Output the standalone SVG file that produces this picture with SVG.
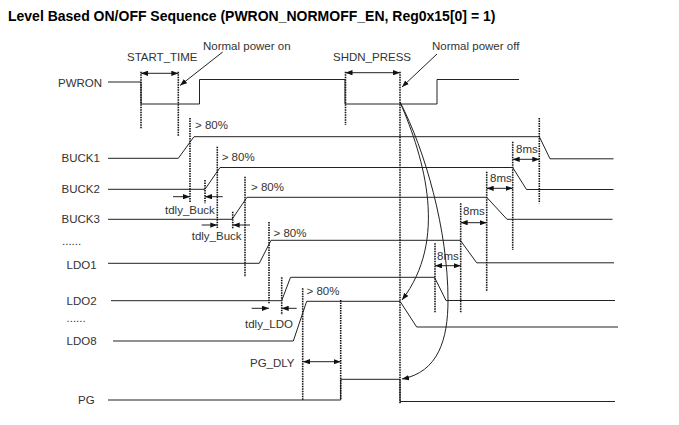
<svg xmlns="http://www.w3.org/2000/svg" width="679" height="425" viewBox="0 0 679 425">
<defs>
<style>
.t{font-family:"Liberation Sans",Arial,sans-serif;font-size:11.5px;fill:#333}
.title{font-family:"Liberation Sans",Arial,sans-serif;font-size:14px;font-weight:bold;fill:#000}
.sig{fill:none;stroke:#222;stroke-width:1}
.dash{fill:none;stroke:#111;stroke-width:1.6;stroke-dasharray:1.5 1}
.arr{fill:none;stroke:#222;stroke-width:1;marker-end:url(#ah)}
.dbl{fill:none;stroke:#222;stroke-width:1;marker-start:url(#ah);marker-end:url(#ah)}
</style>
<marker id="ah" viewBox="0 0 8 6" refX="8" refY="3" markerWidth="7" markerHeight="5.5" markerUnits="userSpaceOnUse" orient="auto-start-reverse"><path d="M0,0 L8,3 L0,6 z" fill="#111"/></marker>
</defs>
<rect width="679" height="425" fill="#fff"/>
<text class="title" x="8" y="21">Level Based ON/OFF Sequence (PWRON_NORMOFF_EN, Reg0x15[0] = 1)</text>

<g id="PWRON">
<text class="t" x="58" y="86.5">PWRON</text>
<path class="sig" d="M108,82 H141 V104 H199.5 V79.5 H345 V104 H437 V79.5 H519"/>
</g>
<g id="BUCK1">
<text class="t" x="61.5" y="161.5">BUCK1</text>
<path class="sig" d="M108,158.3 H178.3 L194,136.7 H539.3 L550,158.8 H613.5"/>
</g>
<g id="BUCK2">
<text class="t" x="61.5" y="192.5">BUCK2</text>
<path class="sig" d="M108,189.3 H205 L220,167.5 H512.7 L526.5,189.5 H613.5"/>
</g>
<g id="BUCK3">
<text class="t" x="61.5" y="222.5">BUCK3</text>
<path class="sig" d="M108,219.3 H232 L247,197.3 H486.7 L507,219.3 H612.5"/>
</g>
<text class="t" x="62" y="245">......</text>
<g id="LDO1">
<text class="t" x="66.5" y="268.5">LDO1</text>
<path class="sig" d="M108,263.3 H259.3 L271,240.3 H460.3 L476.7,262.8 H614"/>
</g>
<g id="LDO2">
<text class="t" x="66.5" y="305">LDO2</text>
<path class="sig" d="M111,300.7 H281.7 L290.5,277.3 H434.5 L446,300.5 H615"/>
</g>
<text class="t" x="66.5" y="322">......</text>
<g id="LDO8">
<text class="t" x="66.5" y="345">LDO8</text>
<path class="sig" d="M113,341 H293.3 L306.7,301.3 H400 L416.7,327 H618"/>
</g>
<g id="PG">
<text class="t" x="78" y="404">PG</text>
<path class="sig" d="M108,400 H340.7 V379.3 H400 V401.5 H615"/>
</g>

<g id="markers-dashed">
<path class="dash" d="M141,71.7 V128.3 M178.3,71.7 V136.7 M345.5,71.7 V125 M400,71.7 V404
M190,118 V203 M205,180 V203.3 M217.3,146.7 V228 M232.7,211.7 V228.3 M245,176.7 V277
M269,222 V303.3 M281.7,277.3 V315 M302.7,288.3 V400 M340.7,300 V400
M435,243.3 V313.3 M460.7,203.3 V313.3 M486.7,171.7 V291.7 M512.7,141.7 V250 M539.3,118 V203.3"/>
</g>

<g id="connectors">
<path class="dbl" d="M141,73.3 H178.3"/>
<path class="dbl" d="M345.5,72.7 H400"/>
<path class="arr" d="M173,196.7 H190"/>
<path class="arr" d="M222.7,196.7 H205"/>
<path class="arr" d="M201.7,225 H217.3"/>
<path class="arr" d="M250,225 H232.7"/>
<path class="arr" d="M251.7,308.3 H269"/>
<path class="arr" d="M296.7,308.3 H281.7"/>
<path class="dbl" d="M303,361.7 H340.7"/>
<path class="dbl" d="M512.7,159.3 H539.3"/>
<path class="dbl" d="M486.7,188.3 H512.7"/>
<path class="dbl" d="M460.7,222.7 H486.7"/>
<path class="dbl" d="M435,265.7 H460.7"/>
<path class="arr" d="M222.7,52 L180,85.5"/>
<path class="arr" d="M437,54 L402,87"/>
<path class="arr" d="M400,102 C425,160 448,240 402,300"/>
<path class="arr" d="M400,102 C425,150 448,230 448,300 C448,340 438,372 402,379"/>
</g>

<g id="labels">
<text class="t" x="127" y="60.5">START_TIME</text>
<text class="t" x="203" y="50">Normal power on</text>
<text class="t" x="333" y="60.5">SHDN_PRESS</text>
<text class="t" x="432" y="50">Normal power off</text>
<text class="t" x="195" y="129">&gt; 80%</text>
<text class="t" x="221.7" y="160.5">&gt; 80%</text>
<text class="t" x="251" y="190.5">&gt; 80%</text>
<text class="t" x="273.5" y="236.5">&gt; 80%</text>
<text class="t" x="306.5" y="295">&gt; 80%</text>
<text class="t" x="165" y="213.5">tdly_Buck</text>
<text class="t" x="191.7" y="239.5">tdly_Buck</text>
<text class="t" x="245" y="328">tdly_LDO</text>
<text class="t" x="250" y="367">PG_DLY</text>
<text class="t" x="516" y="153">8ms</text>
<text class="t" x="490" y="182">8ms</text>
<text class="t" x="463" y="215">8ms</text>
<text class="t" x="437" y="259.5">8ms</text>
</g>
</svg>
